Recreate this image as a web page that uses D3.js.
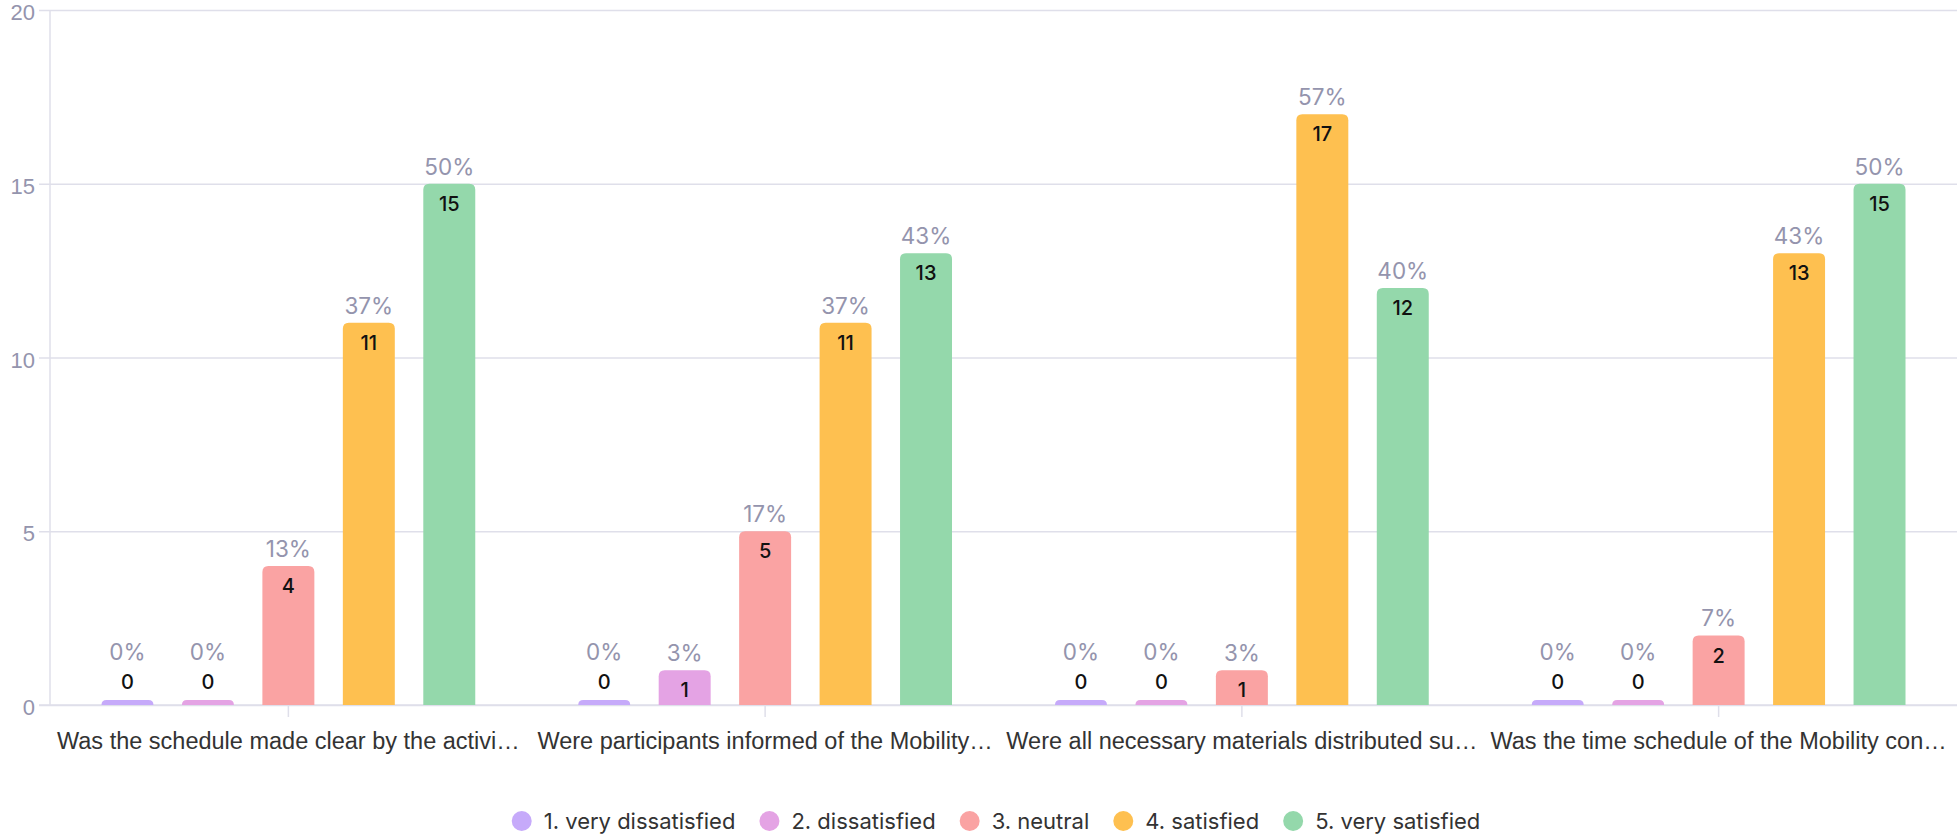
<!DOCTYPE html>
<html lang="en">
<head>
    <meta charset="utf-8">
    <title>Satisfaction survey</title>
    <style type="text/css">
        body{ margin:0; background:#fff; }
        svg{ display:block; font-family: Inter, "Open Sans", sans-serif; }
        .axis path, .axis line{ stroke:#dfdfea; }
        .y-axis text{ fill:#9494ad; font-size:22px; }
        .x-axis text{ fill:#333; font-size:23.5px; }
        .num{ fill:#111; font-size:20px; font-weight:500; }
        .pct{ fill:#9494ad; font-size:22.5px; }
        .legend text{ fill:#333; font-size:22px; }
    </style>
</head>
<body>
<svg class="chart" width="1957" height="838"></svg>
<script src="https://d3js.org/d3.v7.min.js"></script>
<script>
    // data
    var questions = [
        'Was the schedule made clear by the activi\u2026',
        'Were participants informed of the Mobility\u2026',
        'Were all necessary materials distributed su\u2026',
        'Was the time schedule of the Mobility con\u2026'
    ];
    var series = ['1. very dissatisfied', '2. dissatisfied', '3. neutral', '4. satisfied', '5. very satisfied'];
    var veryDissatisfied = [0, 0, 0, 0];
    var dissatisfied     = [0, 1, 0, 0];
    var neutral          = [4, 5, 1, 2];
    var satisfied        = [11, 11, 17, 13];
    var verySatisfied    = [15, 13, 12, 15];
    var yTicks = [0, 5, 10, 15, 20];
    var colors = ['#c6aafa', '#e4a3e4', '#faa3a3', '#fec050', '#94d8ab'];

    var values = [veryDissatisfied, dissatisfied, neutral, satisfied, verySatisfied];

    var svg = d3.select('.chart'),
        width = +svg.attr('width'),
        margin = {left: 50, top: 10, bottom: 705},
        plot_w = width - margin.left,
        plot_h = margin.bottom - margin.top;

    var g = svg.append('g')
        .attr('transform', 'translate(' + margin.left + ',' + margin.top + ')');

    // scales
    var x0 = d3.scaleBand().domain(questions).range([0, plot_w]);
    var x1 = d3.scaleBand().domain(series).range([0, x0.bandwidth()])
        .paddingInner(0.354).paddingOuter(0.64);
    var y = d3.scaleLinear().domain([0, 20]).range([plot_h, 0]);
    var color = d3.scaleOrdinal().domain(series).range(colors);

    // y axis + grid
    var yAxis = g.append('g')
        .attr('class', 'axis y-axis')
        .call(d3.axisLeft(y).tickValues(yTicks).tickSizeOuter(0));
    yAxis.selectAll('.tick line').attr('x1', -11).attr('x2', plot_w).attr('stroke-width', 1.5);
    yAxis.select('.domain').attr('d', 'M0,0V' + plot_h).attr('stroke-width', 1.5);
    yAxis.selectAll('.tick text').attr('x', -15).attr('y', 2.5);

    // x axis
    var xAxis = g.append('g')
        .attr('class', 'axis x-axis')
        .attr('transform', 'translate(0,' + plot_h + ')')
        .call(d3.axisBottom(x0).tickSizeOuter(0).tickSizeInner(12).tickPadding(12));
    xAxis.select('.domain').attr('d', 'M-11,0H' + plot_w).attr('stroke-width', 1.5);
    xAxis.selectAll('.tick line').attr('stroke-width', 1.5);
    xAxis.selectAll('.tick text').attr('dy', '0.85em');

    // rounded-top bar path
    function barPath(x, top, w, h, r) {
        r = Math.min(r, h, w / 2);
        return 'M' + x + ',' + (top + h) +
            'V' + (top + r) +
            'Q' + x + ',' + top + ' ' + (x + r) + ',' + top +
            'H' + (x + w - r) +
            'Q' + (x + w) + ',' + top + ' ' + (x + w) + ',' + (top + r) +
            'V' + (top + h) + 'Z';
    }

    var rows = questions.map(function(q, qi){
        var total = d3.sum(values, function(v){ return v[qi]; });
        return series.map(function(s, si){
            return {q: q, s: s, v: values[si][qi], pct: Math.round(values[si][qi] / total * 100)};
        });
    });

    var groups = g.selectAll('.group')
        .data(rows)
        .enter()
        .append('g')
        .attr('class', 'group')
        .attr('transform', function(d, i){ return 'translate(' + x0(questions[i]) + ',0)'; });

    var bars = groups.selectAll('.bar')
        .data(function(d){ return d; })
        .enter()
        .append('g')
        .attr('class', 'bar');

    var minH = 5;
    bars.append('path')
        .attr('fill', function(d){ return color(d.s); })
        .attr('d', function(d){
            var h = Math.max(plot_h - y(d.v), minH);
            return barPath(x1(d.s), plot_h - h, x1.bandwidth(), h, 6);
        });

    bars.append('text')
        .attr('class', 'num')
        .attr('text-anchor', 'middle')
        .attr('x', function(d){ return x1(d.s) + x1.bandwidth() / 2; })
        .attr('y', function(d){ return d.v > 0 ? y(d.v) + 20 : plot_h - minH - 18; })
        .attr('dy', '0.35em')
        .text(function(d){ return d.v; });

    bars.append('text')
        .attr('class', 'pct')
        .attr('text-anchor', 'middle')
        .attr('x', function(d){ return x1(d.s) + x1.bandwidth() / 2; })
        .attr('y', function(d){ return d.v > 0 ? y(d.v) - 17 : plot_h - minH - 48; })
        .attr('dy', '0.35em')
        .text(function(d){ return d.pct + '%'; });

    // legend, centred under the plot
    var legend = svg.append('g').attr('class', 'legend').attr('transform', 'translate(0,821)');
    var lx = 0;
    series.forEach(function(s){
        var item = legend.append('g').attr('class', 'item').attr('transform', 'translate(' + lx + ',0)');
        item.append('circle').attr('cx', 10).attr('cy', 0).attr('r', 10).attr('fill', color(s));
        var t = item.append('text').attr('x', 32).attr('dy', '0.35em').text(s);
        lx += 32 + t.node().getComputedTextLength() + 24;
    });
    var legendW = lx - 24;
    legend.attr('transform', 'translate(' + (996 - legendW / 2) + ',821)');
</script>
</body>
</html>
